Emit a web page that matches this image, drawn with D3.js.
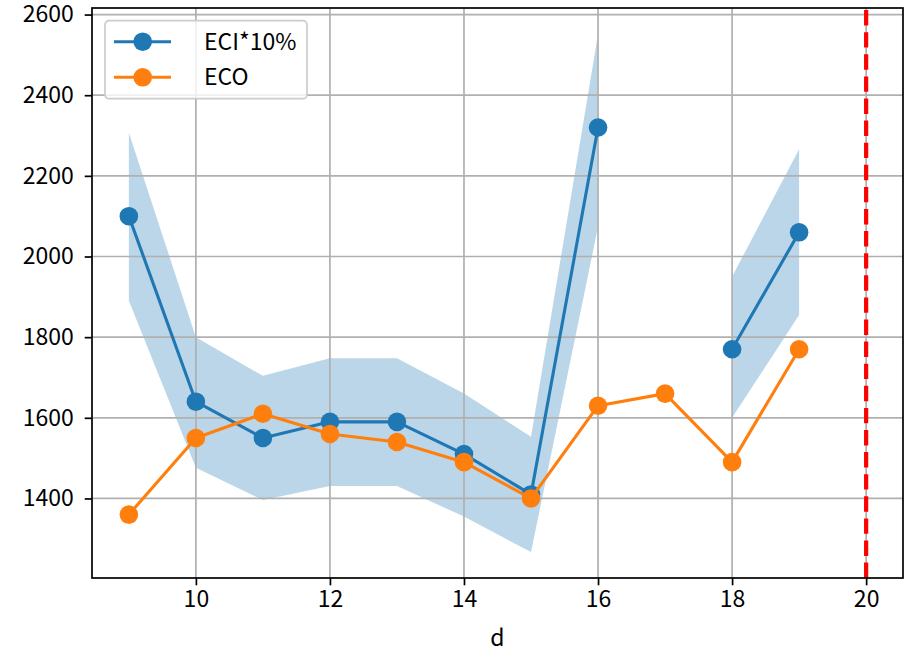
<!DOCTYPE html>
<html>
<head>
<meta charset="utf-8">
<script src="https://cdn.jsdelivr.net/npm/d3@7"></script>
<style>
  body { margin: 0; background: #fff; }
  text { font-family: "Noto Sans CJK JP", "DejaVu Sans", sans-serif; fill: #000; }
</style>
</head>
<body>
<div class="chart"></div>
<script>
// values (null = missing)
var days = [9, 10, 11, 12, 13, 14, 15, 16, 17, 18, 19];
var eci = [2100, 1640, 1550, 1590, 1590, 1510, 1410, 2320, null, 1770, 2060];
var eciLow = [1890, 1476, 1396, 1431, 1431, 1355, 1267, 2074, null, 1600, 1855];
var eciHigh = [2307, 1800, 1704, 1748, 1748, 1660, 1553, 2552, null, 1950, 2266];
var eco = [1360, 1550, 1610, 1560, 1540, 1490, 1400, 1630, 1660, 1490, 1770];
var cutoff = 20;
var xTicks = [10, 12, 14, 16, 18, 20];
var yTicks = [1400, 1600, 1800, 2000, 2200, 2400, 2600];
var seriesNames = ["ECI*10%", "ECO"];

var svgWidth = 911;
var svgHeight = 655;

var margin = {
  top: 8,
  right: 8,
  bottom: 77,
  left: 92
};

var width = svgWidth - margin.left - margin.right;
var height = svgHeight - margin.top - margin.bottom;

var blue = "#1f77b4";
var orange = "#ff7f0e";

var svg = d3.select(".chart")
  .append("svg")
  .attr("width", svgWidth)
  .attr("height", svgHeight);

var chartGroup = svg.append("g")
  .attr("transform", `translate(${margin.left}, ${margin.top})`);

var rows = days.map(function(d, i) {
  return { d: d, eci: eci[i], lo: eciLow[i], hi: eciHigh[i], eco: eco[i] };
});

// matplotlib style 5% padding
function padded(lo, hi) {
  var p = (hi - lo) * 0.05;
  return [lo - p, hi + p];
}

var xMin = d3.min(days), xMax = Math.max(d3.max(days), cutoff);
var yMin = d3.min(eciLow.concat(eco).filter(v => v != null));
var yMax = d3.max(eciHigh.concat(eco).filter(v => v != null));

var xLinearScale = d3.scaleLinear()
  .domain(padded(xMin, xMax))
  .range([0, width]);

var yLinearScale = d3.scaleLinear()
  .domain(padded(yMin, yMax))
  .range([height, 0]);

// band first (patches sit under the grid)
var band = d3.area()
  .defined(d => d.lo != null)
  .x(d => xLinearScale(d.d))
  .y0(d => yLinearScale(d.lo))
  .y1(d => yLinearScale(d.hi));

chartGroup.append("path")
  .datum(rows)
  .attr("d", band)
  .attr("fill", blue)
  .attr("fill-opacity", 0.3);

// grid
chartGroup.append("g")
  .selectAll("line")
  .data(xTicks)
  .enter()
  .append("line")
  .attr("x1", d => xLinearScale(d))
  .attr("x2", d => xLinearScale(d))
  .attr("y1", 0)
  .attr("y2", height)
  .attr("stroke", "#b0b0b0")
  .attr("stroke-width", 1.7);

chartGroup.append("g")
  .selectAll("line")
  .data(yTicks)
  .enter()
  .append("line")
  .attr("x1", 0)
  .attr("x2", width)
  .attr("y1", d => yLinearScale(d))
  .attr("y2", d => yLinearScale(d))
  .attr("stroke", "#b0b0b0")
  .attr("stroke-width", 1.7);

// lines + markers
function drawSeries(key, color) {
  var line = d3.line()
    .defined(d => d[key] != null)
    .x(d => xLinearScale(d.d))
    .y(d => yLinearScale(d[key]));

  chartGroup.append("path")
    .datum(rows)
    .attr("d", line)
    .attr("fill", "none")
    .attr("stroke", color)
    .attr("stroke-width", 3.1)
    .attr("stroke-linejoin", "round")
    .attr("stroke-linecap", "square");

  chartGroup.append("g")
    .selectAll("circle")
    .data(rows.filter(d => d[key] != null))
    .enter()
    .append("circle")
    .attr("cx", d => xLinearScale(d.d))
    .attr("cy", d => yLinearScale(d[key]))
    .attr("r", 9.3)
    .attr("fill", color);
}

drawSeries("eci", blue);
drawSeries("eco", orange);

// cutoff line
chartGroup.append("line")
  .attr("x1", xLinearScale(cutoff))
  .attr("x2", xLinearScale(cutoff))
  .attr("y1", height)
  .attr("y2", 0)
  .attr("stroke", "red")
  .attr("stroke-width", 4.2)
  .attr("stroke-dasharray", "15.4,6.7");

// axes
var bottomAxis = d3.axisBottom(xLinearScale)
  .tickValues(xTicks)
  .tickSize(7.3)
  .tickPadding(5)
  .tickFormat(d3.format("d"));

var leftAxis = d3.axisLeft(yLinearScale)
  .tickValues(yTicks)
  .tickSize(7.3)
  .tickPadding(11)
  .tickFormat(d3.format("d"));

var xAxisG = chartGroup.append("g")
  .attr("transform", `translate(0, ${height})`)
  .call(bottomAxis);

var yAxisG = chartGroup.append("g")
  .call(leftAxis);

[xAxisG, yAxisG].forEach(function(g) {
  g.select(".domain").remove();
  g.selectAll(".tick line").attr("stroke", "#000").attr("stroke-width", 1.7);
  g.selectAll(".tick text")
    .style("font-family", "'Noto Sans CJK JP', sans-serif")
    .style("font-size", "23px")
    .attr("fill", "#000");
});

// frame
chartGroup.append("rect")
  .attr("x", 0)
  .attr("y", 0)
  .attr("width", width)
  .attr("height", height)
  .attr("fill", "none")
  .attr("stroke", "#000")
  .attr("stroke-width", 1.7);

chartGroup.append("text")
  .attr("x", width / 2)
  .attr("y", height + 68)
  .attr("text-anchor", "middle")
  .style("font-size", "23px")
  .text("d");

// legend
var legend = chartGroup.append("g")
  .attr("transform", "translate(13, 12.7)");

legend.append("rect")
  .attr("width", 202)
  .attr("height", 78)
  .attr("rx", 4)
  .attr("fill", "#fff")
  .attr("fill-opacity", 0.8)
  .attr("stroke", "#cccccc")
  .attr("stroke-width", 1.7);

var legendItems = legend.selectAll(".item")
  .data(seriesNames.map((n, i) => ({ name: n, color: [blue, orange][i] })))
  .enter()
  .append("g")
  .attr("transform", (d, i) => `translate(0, ${21 + i * 35.6})`);

legendItems.append("line")
  .attr("x1", 9)
  .attr("x2", 66)
  .attr("stroke", d => d.color)
  .attr("stroke-width", 3.1);

legendItems.append("circle")
  .attr("cx", 37.7)
  .attr("r", 9.3)
  .attr("fill", d => d.color);

legendItems.append("text")
  .attr("x", 99)
  .attr("y", 8)
  .style("font-size", "23px")
  .text(d => d.name);
</script>
</body>
</html>
